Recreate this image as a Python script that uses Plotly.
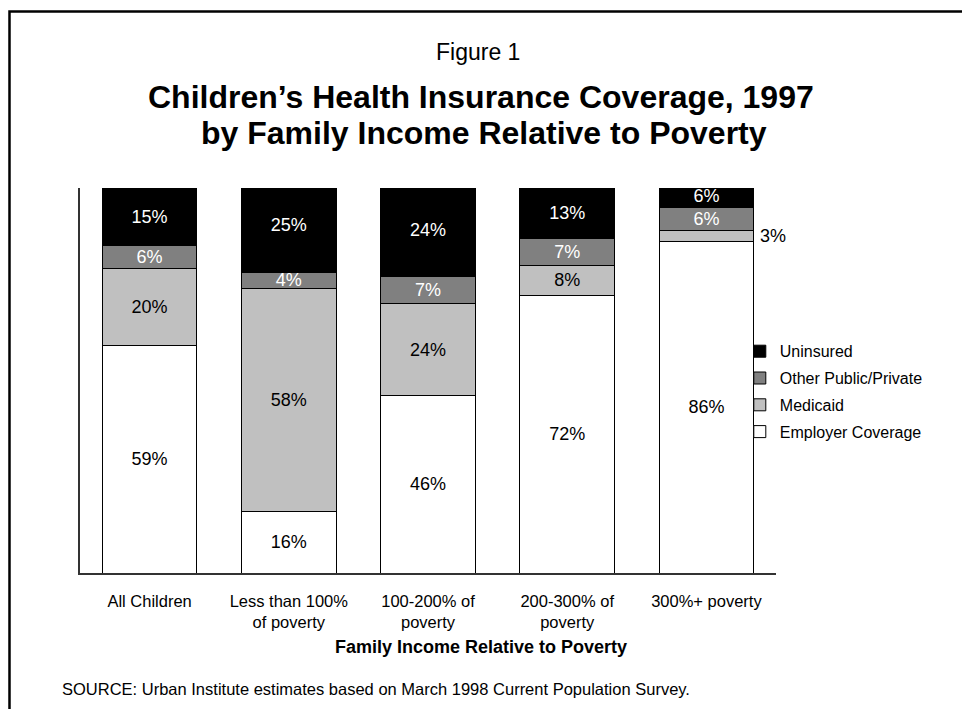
import plotly.graph_objects as go

# Children's health insurance coverage, 1997 (percent of children)
categories = [
    "All Children",
    "Less than 100%<br>of poverty",
    "100-200% of<br>poverty",
    "200-300% of<br>poverty",
    "300%+ poverty",
]
employer = [59, 16, 46, 72, 86]
medicaid = [20, 58, 24, 8, 3]
other = [6, 4, 7, 7, 6]
uninsured = [15, 25, 24, 13, 6]

FONT = "Liberation Sans, Arial, sans-serif"

# (name, values, fill colour, label colour, legend rank)
series = [
    ("Employer Coverage", employer, "#ffffff", "#000000", 4),
    ("Medicaid", medicaid, "#c0c0c0", "#000000", 3),
    ("Other Public/Private", other, "#808080", "#ffffff", 2),
    ("Uninsured", uninsured, "#000000", "#ffffff", 1),
]

# Segments too thin for an inside label get their label beside the bar
OUTSIDE = {("Medicaid", 4)}

fig = go.Figure()
for name, vals, fill, txtcol, rank in series:
    texts = ["" if (name, i) in OUTSIDE else f"{v}%" for i, v in enumerate(vals)]
    fig.add_trace(go.Bar(
        x=categories, y=vals, name=name,
        marker=dict(color=fill, line=dict(color="#000000", width=1)),
        text=texts, textposition="inside", insidetextanchor="middle",
        textangle=0, constraintext="none",
        insidetextfont=dict(family=FONT, size=18, color=txtcol),
        legendgroup=name, legendrank=rank, hoverinfo="skip",
    ))

annotations = []
for name, vals, fill, txtcol, rank in series:
    for (n, i) in OUTSIDE:
        if n == name:
            base = 0
            for nm, vv, *_ in series:
                if nm == name:
                    break
                base += vv[i]
            annotations.append(dict(
                x=categories[i], y=base + vals[i] / 2, xref="x", yref="y",
                text=f"{vals[i]}%", showarrow=False, xanchor="left",
                yanchor="middle", xshift=52,
                font=dict(family=FONT, size=18, color="#000000"),
            ))

annotations += [
    dict(text="Figure 1", x=0.572, y=1.3532, xref="paper", yref="paper",
         showarrow=False, yanchor="middle",
         font=dict(family=FONT, size=23, color="#000000")),
    dict(text="<b>Children\u2019s Health Insurance Coverage, 1997</b>",
         x=0.576, y=1.2364, xref="paper", yref="paper", showarrow=False,
         yanchor="middle", font=dict(family=FONT, size=32, color="#000000")),
    dict(text="<b>by Family Income Relative to Poverty</b>",
         x=0.58, y=1.1429, xref="paper", yref="paper", showarrow=False,
         yanchor="middle", font=dict(family=FONT, size=32, color="#000000")),
    dict(text="<b>Family Income Relative to Poverty</b>",
         x=0.576, y=-0.192, xref="paper", yref="paper", showarrow=False,
         yanchor="middle", font=dict(family=FONT, size=18, color="#000000")),
    dict(text="SOURCE: Urban Institute estimates based on March 1998 Current Population Survey.",
         x=-0.0287, y=-0.3013, xref="paper", yref="paper", showarrow=False,
         xanchor="left", yanchor="middle",
         font=dict(family=FONT, size=16.5, color="#000000")),
]

fig.update_layout(
    width=962, height=709,
    margin=dict(l=80, r=186, t=188, b=136),
    paper_bgcolor="#ffffff", plot_bgcolor="#ffffff",
    barmode="stack", bargap=0.32,
    font=dict(family=FONT, color="#000000"),
    showlegend=True,
    legend=dict(
        x=0.948, y=0.62, xanchor="left", yanchor="top",
        traceorder="grouped", tracegroupgap=3,
        font=dict(family=FONT, size=16, color="#000000"),
        bgcolor="rgba(0,0,0,0)",
    ),
    xaxis=dict(
        range=[-0.5, 4.5], showline=True, linecolor="#333333", linewidth=1.5,
        showgrid=False, ticks="", ticklabelstandoff=12,
        tickfont=dict(family=FONT, size=16.5, color="#000000"),
    ),
    yaxis=dict(
        range=[0, 100], showline=True, linecolor="#333333", linewidth=1.5,
        showgrid=False, showticklabels=False, ticks="", zeroline=False,
    ),
    annotations=annotations,
    shapes=[dict(
        type="rect", xref="paper", yref="paper",
        x0=-0.1013, x1=1.6, y0=-0.6, y1=1.4584,
        line=dict(color="#000000", width=2.5), fillcolor="rgba(0,0,0,0)",
        layer="below",
    )],
)

fig.write_html("out.html")
